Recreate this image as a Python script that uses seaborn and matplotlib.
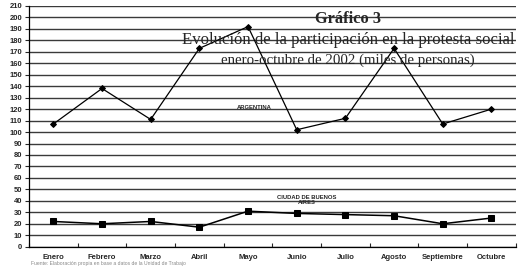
import pandas as pd
import seaborn as sns
import matplotlib.pyplot as plt
from matplotlib.ticker import MultipleLocator, FixedLocator

# datos
meses = ['Enero', 'Febrero', 'Marzo', 'Abril', 'Mayo', 'Junio', 'Julio',
         'Agosto', 'Septiembre', 'Octubre']
argentina = [107, 138, 111, 173, 192, 102, 112, 173, 107, 120]
buenos_aires = [22, 20, 22, 17, 31, 29, 28, 27, 20, 25]

df = pd.DataFrame({'mes': meses, 'Argentina': argentina, 'Buenos Aires': buenos_aires})

sns.set_style('white')
plt.rcParams['font.family'] = ['Liberation Sans', 'DejaVu Sans']

fig = plt.figure(figsize=(5.24, 2.66), dpi=100)
ax = fig.add_axes([0.0553, 0.0726, 0.929, 0.905])

sns.lineplot(data=df, x='mes', y='Argentina', sort=False, color='black', lw=0.9,
             marker='D', markersize=3, markeredgecolor='black', ax=ax)
sns.lineplot(data=df, x='mes', y='Buenos Aires', sort=False, color='black', lw=1.1,
             marker='s', markersize=4, markeredgecolor='black', ax=ax)

ax.set_xlim(-0.5, 9.5)
ax.set_ylim(0, 210)
ax.yaxis.set_major_locator(MultipleLocator(10))
ax.grid(axis='y', color='#3a3a3a', lw=1.0)
ax.set_axisbelow(True)
ax.set_xlabel('')
ax.set_ylabel('')

for s in ['top', 'right']:
    ax.spines[s].set_visible(False)
ax.spines['left'].set_color('black')
ax.spines['bottom'].set_color('black')
ax.spines['left'].set_linewidth(0.9)
ax.spines['bottom'].set_linewidth(0.9)

ax.tick_params(axis='y', which='major', left=True, length=3, width=0.8, pad=2,
               labelsize=5.5)
ax.tick_params(axis='x', which='major', bottom=False, pad=2, labelsize=5.5)
ax.xaxis.set_minor_locator(FixedLocator([i + 0.5 for i in range(-1, 10)]))
ax.tick_params(axis='x', which='minor', bottom=True, length=3, width=0.8, direction='in')
for lab in ax.get_xticklabels() + ax.get_yticklabels():
    lab.set_fontweight('bold')

ax.text(4.12, 121, 'ARGENTINA', fontsize=4.2, fontweight='bold', ha='center', va='center')
ax.text(5.2, 40.5, 'CIUDAD DE BUENOS\nAIRES', fontsize=4.2, fontweight='bold',
        ha='center', va='center', linespacing=1.1)

serif = ['Liberation Serif', 'DejaVu Serif']
fig.text(0.664, 0.928, 'Gráfico 3', family=serif, fontsize=11.8, fontweight='bold',
         ha='center', va='center')
fig.text(0.664, 0.849, 'Evolución de la participación en la protesta social',
         family=serif, fontsize=12.1, ha='center', va='center')
fig.text(0.664, 0.773, 'enero-octubre de 2002 (miles de personas)',
         family=serif, fontsize=10.7, ha='center', va='center')

fig.text(0.06, 0.009, 'Fuente: Elaboración propia en base a datos de la Unidad de Trabajo',
         fontsize=3.6, color='#888888', ha='left', va='center')

fig.savefig('out.png', dpi=100)
